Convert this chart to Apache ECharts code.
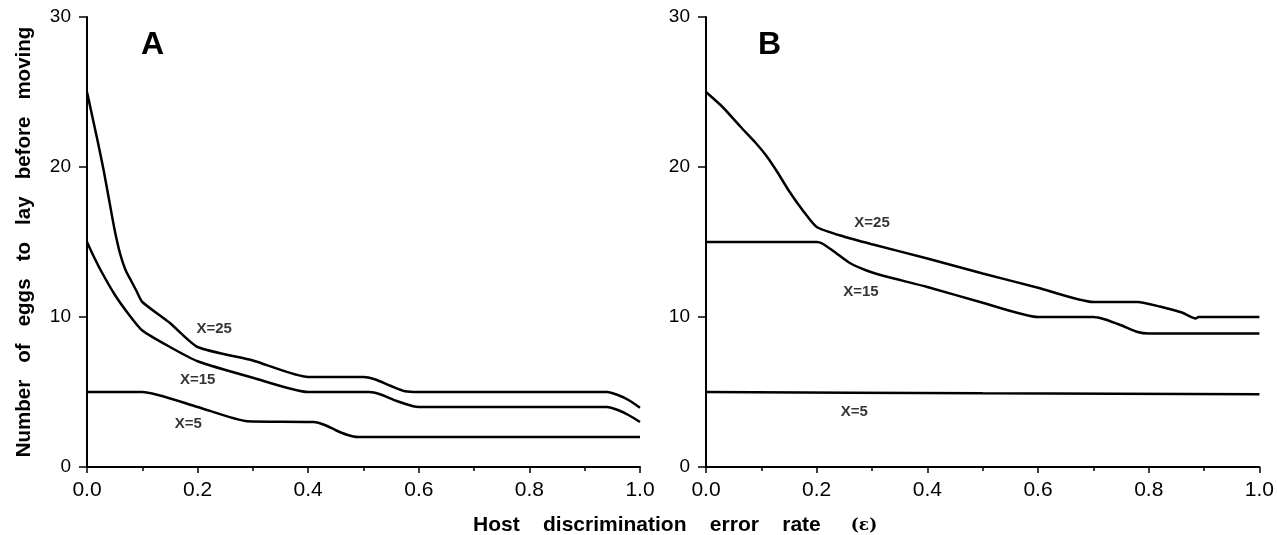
<!DOCTYPE html>
<html lang="en">
<head>
    <meta charset="utf-8">
    <title>Host discrimination error rate</title>
    <script src="https://cdn.jsdelivr.net/npm/echarts@6/dist/echarts.min.js"></script>
    <style>
        html, body, #main {
            width: 100%;
            height: 100%;
            margin: 0;
            padding: 0;
            overflow: hidden;
            background-color: #ffffff;
        }
    </style>
</head>
<body>
<div id="main"></div>
<script>
    // panel A
    var epsA25 = [0, 0.01, 0.02, 0.03, 0.04, 0.05, 0.06, 0.07, 0.08, 0.09, 0.1, 0.15, 0.2, 0.3, 0.4, 0.5, 0.52, 0.55, 0.575, 0.6, 0.94, 0.96, 0.98, 1.0];
    var eggsA25 = [25, 23.3, 21.6, 19.8, 17.8, 15.8, 14.2, 13.1, 12.4, 11.7, 11.0, 9.6, 8.0, 7.1, 6.0, 6.0, 5.85, 5.4, 5.05, 5.0, 5.0, 4.8, 4.45, 3.95];
    var epsA15 = [0, 0.01, 0.025, 0.05, 0.075, 0.1, 0.15, 0.2, 0.3, 0.4, 0.51, 0.53, 0.56, 0.59, 0.6, 0.94, 0.96, 0.98, 1.0];
    var eggsA15 = [15, 14.2, 13.1, 11.5, 10.2, 9.1, 8.0, 7.05, 5.95, 5.0, 5.0, 4.85, 4.4, 4.05, 4.0, 4.0, 3.8, 3.45, 3.0];
    var epsA5 = [0, 0.1, 0.2, 0.29, 0.41, 0.43, 0.45, 0.47, 0.49, 1.0];
    var eggsA5 = [5, 5, 4.0, 3.05, 3.0, 2.8, 2.45, 2.15, 2.0, 2.0];

    // panel B
    var epsB25 = [0, 0.03, 0.062, 0.09, 0.11, 0.13, 0.15, 0.175, 0.2, 0.25, 0.3, 0.4, 0.5, 0.6, 0.7, 0.78, 0.82, 0.86, 0.885, 0.89, 1.0];
    var eggsB25 = [25, 24.0, 22.7, 21.6, 20.7, 19.6, 18.4, 17.1, 16.0, 15.35, 14.85, 13.9, 12.9, 11.95, 11.0, 11.0, 10.7, 10.3, 9.9, 10.0, 10.0];
    var epsB15 = [0, 0.2, 0.21, 0.23, 0.26, 0.29, 0.32, 0.4, 0.5, 0.6, 0.7, 0.72, 0.75, 0.78, 0.8, 1.0];
    var eggsB15 = [15, 15, 14.9, 14.4, 13.6, 13.1, 12.75, 12.0, 10.95, 10.0, 10.0, 9.85, 9.45, 9.0, 8.9, 8.9];
    var epsB5 = [0, 0.5, 1.0];
    var eggsB5 = [5, 4.92, 4.85];

    var curveNames = ['X=25', 'X=15', 'X=5'];
    var labelAtA = [[0.23, 9.2], [0.20, 5.8], [0.183, 2.87]];
    var labelAtB = [[0.30, 16.3], [0.28, 11.7], [0.268, 3.67]];

    var xTicks = ['0.0', '0.2', '0.4', '0.6', '0.8', '1.0'];

    var font = "'Liberation Sans', Arial, Helvetica, sans-serif";

    function zip(xs, ys) {
        var out = [];
        for (var i = 0; i < xs.length; i++) out.push([xs[i], ys[i]]);
        return out;
    }

    function xAxisFor(idx) {
        return {
            type: 'value', gridIndex: idx, min: 0, max: 1, interval: 0.2,
            axisLine: {lineStyle: {color: '#000', width: 2}},
            axisTick: {length: 6, lineStyle: {color: '#000', width: 1.5}},
            minorTick: {show: true, splitNumber: 2, length: 4, lineStyle: {color: '#000', width: 1.5}},
            splitLine: {show: false},
            axisLabel: {
                color: '#000', fontSize: 21, fontFamily: font, margin: 13,
                formatter: function (v) { return xTicks[Math.round(v / 0.2)]; }
            }
        };
    }

    function yAxisFor(idx) {
        var ax = {
            type: 'value', gridIndex: idx, min: 0, max: 30, interval: 10,
            axisLine: {show: true, lineStyle: {color: '#000', width: 2}},
            axisTick: {show: true, length: 8, lineStyle: {color: '#000', width: 1.5}},
            splitLine: {show: false},
            axisLabel: {color: '#000', fontSize: 19, fontFamily: font, margin: 16}
        };
        if (idx === 0) {
            ax.name = 'Number   of   eggs   to   lay   before   moving';
            ax.nameLocation = 'middle';
            ax.nameRotate = 90;
            ax.nameGap = 52;
            ax.nameTextStyle = {color: '#000', fontSize: 20.5, fontWeight: 'bold', fontFamily: font};
        }
        return ax;
    }

    function curve(idx, xs, ys) {
        return {
            type: 'line', xAxisIndex: idx, yAxisIndex: idx,
            data: zip(xs, ys), showSymbol: false, smooth: 0.2,
            lineStyle: {color: '#000', width: 2.5}, silent: true
        };
    }

    function labels(idx, pos) {
        return {
            type: 'scatter', xAxisIndex: idx, yAxisIndex: idx, symbolSize: 1,
            itemStyle: {color: 'rgba(0,0,0,0)'}, silent: true,
            data: pos.map(function (p, i) { return {value: p, name: curveNames[i]}; }),
            label: {
                show: true, position: 'inside', formatter: '{b}',
                color: '#000', fontSize: 15, fontWeight: 'bold', fontFamily: font
            }
        };
    }

    var chart = echarts.init(document.getElementById('main'));
    chart.setOption({
        backgroundColor: '#fff',
        animation: false,
        title: [
            {text: 'A', left: 136, top: 24, textStyle: {fontSize: 32, fontWeight: 'bold', color: '#000', fontFamily: font}},
            {text: 'B', left: 753, top: 24, textStyle: {fontSize: 32, fontWeight: 'bold', color: '#000', fontFamily: font}},
            {
                text: '{b|Host    discrimination    error    rate}      {n|(ε)}',
                left: 468, top: 510,
                textStyle: {
                    rich: {
                        b: {fontSize: 21, fontWeight: 'bold', color: '#000', fontFamily: font},
                        n: {fontSize: 17, color: '#000', fontFamily: "'DejaVu Serif', serif"}
                    }
                }
            }
        ],
        grid: [
            {left: 87, right: 637, top: 17, bottom: 68},
            {left: 706, right: 17, top: 17, bottom: 68}
        ],
        xAxis: [xAxisFor(0), xAxisFor(1)],
        yAxis: [yAxisFor(0), yAxisFor(1)],
        series: [
            curve(0, epsA25, eggsA25),
            curve(0, epsA15, eggsA15),
            curve(0, epsA5, eggsA5),
            curve(1, epsB25, eggsB25),
            curve(1, epsB15, eggsB15),
            curve(1, epsB5, eggsB5),
            labels(0, labelAtA),
            labels(1, labelAtB)
        ]
    });
</script>
</body>
</html>
